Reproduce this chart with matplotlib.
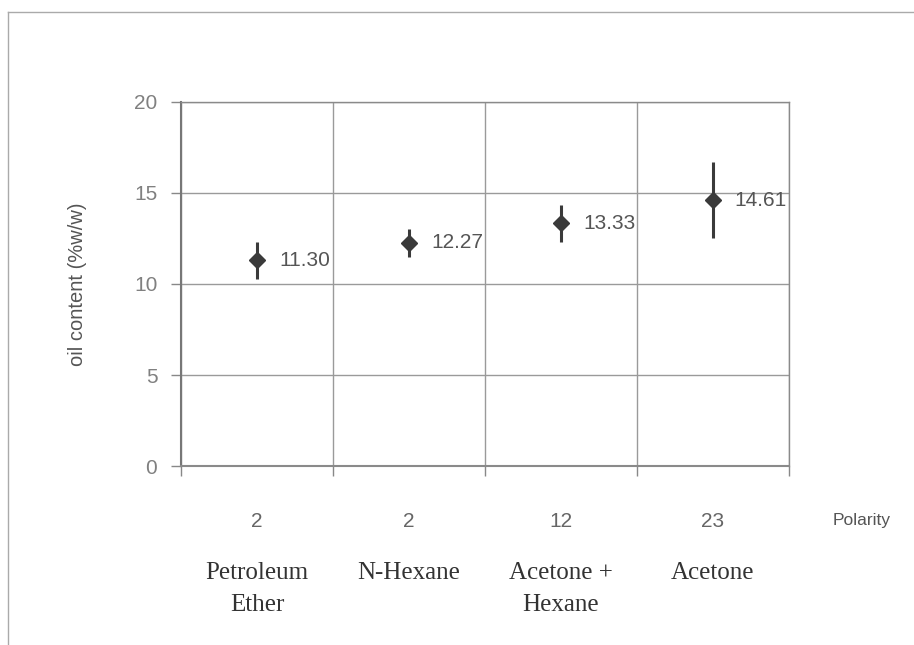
import numpy as np
import matplotlib.pyplot as plt
from matplotlib.lines import Line2D
from matplotlib.transforms import Bbox, TransformedBbox

# extraction results per solvent
solvents = ["Petroleum\nEther", "N-Hexane", "Acetone +\nHexane", "Acetone"]
polarity = ["2", "2", "12", "23"]
oil = [11.30, 12.27, 13.33, 14.61]
err = [1.0, 0.77, 1.0, 2.1]

fig = plt.figure(figsize=(9.14, 6.45), dpi=100)
ax = fig.add_axes([0.198, 0.2775, 0.665, 0.5644])

x = np.arange(len(oil)) + 0.5
ax.errorbar(x, oil, yerr=err, fmt="D", color="#3a3a3a", ms=8.5, elinewidth=2.2,
            capsize=0, zorder=3)

# value labels, cut off at the next gridline like the original sheet
for i, v in enumerate(oil):
    t = ax.text(x[i] + 0.145, v, "%.2f" % v, fontsize=15, color="#555555",
                family="Liberation Sans", va="center", ha="left", zorder=4)
    t.set_clip_box(TransformedBbox(Bbox([[i, 0], [i + 1, 20]]), ax.transData))
    t.set_clip_on(True)

ax.set_xlim(0, 4)
ax.set_ylim(0, 20)
ax.set_yticks([0, 5, 10, 15, 20])
ax.set_xticks([0, 1, 2, 3, 4])
ax.set_xticklabels([])
ax.tick_params(axis="y", direction="out", length=7, width=1, color="#888888",
               labelsize=15, labelcolor="#808080", pad=10)
ax.tick_params(axis="x", direction="out", length=7, width=1, color="#888888")
for lab in ax.get_yticklabels():
    lab.set_family("Liberation Sans")
ax.grid(True, color="#9a9a9a", linewidth=1)
ax.set_axisbelow(True)
for s in ax.spines.values():
    s.set_color("#8a8a8a")
    s.set_linewidth(1)
ax.spines["left"].set_color("#777777")
ax.spines["left"].set_linewidth(1.5)
ax.spines["bottom"].set_linewidth(1.5)

ax.set_ylabel("oil content (%w/w)", fontsize=14.5, color="#555555",
              family="Liberation Sans")
ax.yaxis.set_label_coords(-0.155, 0.5)

# polarity row and solvent names under the axis
for i in range(len(oil)):
    ax.text(x[i], -3.05, polarity[i], transform=ax.transData, fontsize=15,
            color="#666666", family="Liberation Sans", ha="center", va="center",
            clip_on=False)
    ax.text(x[i], -5.3, solvents[i], transform=ax.transData, fontsize=18,
            color="#333333", family="Liberation Serif", ha="center", va="top",
            linespacing=1.55, clip_on=False)
fig.text(862 / 914, 1 - 520 / 645, "Polarity", fontsize=12.5, color="#555555",
         family="Liberation Sans", ha="center", va="center")

# outer sheet border
fig.add_artist(Line2D([8 / 914, 1], [1 - 12 / 645] * 2, color="#aaaaaa", lw=1))
fig.add_artist(Line2D([8 / 914] * 2, [1 - 12 / 645, 0], color="#aaaaaa", lw=1))

fig.savefig("out.png", dpi=100)
